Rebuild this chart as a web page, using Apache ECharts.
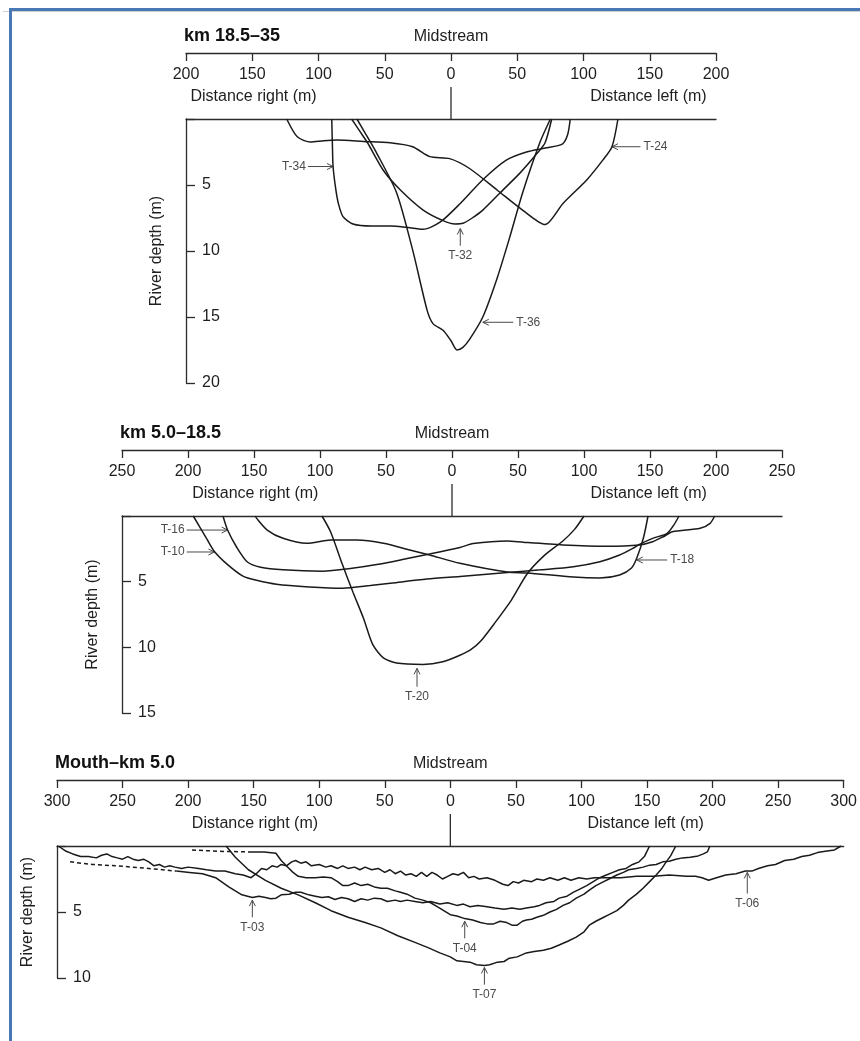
<!DOCTYPE html>
<html>
<head>
<meta charset="utf-8">
<script src="https://cdn.jsdelivr.net/npm/echarts@6.0.0/dist/echarts.min.js"></script>
<style>
html, body { margin:0; padding:0; background:#fff; }
#chart { position:absolute; left:0; top:0; width:860px; height:1041px; }
.fr { position:absolute; background:#4a78b5; }
.gr { position:absolute; background:#cfcfcf; }
</style>
</head>
<body>
<div id="chart"></div>
<div class="gr" style="left:3px;top:11px;width:857px;height:1px;"></div>
<div class="fr" style="left:9px;top:8px;width:851px;height:3px;"></div>
<div class="fr" style="left:9px;top:8px;width:3px;height:1033px;"></div>
<script>
// ---------------- DATA ----------------
// Panel headings
const panelTitles = ['km 18.5\u201335', 'km 5.0\u201318.5', 'Mouth\u2013km 5.0'];
// Half width of each distance axis (m) and depth axis max (m)
const distanceMax = [200, 250, 300];
const depthMax = [20, 15, 10];
const tickStep = 50;
const depthStep = 5;

// Panel 1: km 18.5-35  [distance (m, negative = right bank), depth (m)]
const T24 = [[-124,0],[-116,1.35],[-106,1.75],[-96,1.65],[-86,1.6],[-66,1.7],[-46,1.8],[-29,2.1],[-16,2.85],[-1,3.0],[14,3.75],[35,5.4],[54,6.9],[71,8.0],[84.5,6.4],[102.6,4.6],[114.7,3.1],[121.5,2.1],[126,0]];
const T34 = [[-90,0],[-89.5,2.0],[-89,3.6],[-87,5.3],[-85,6.4],[-81.5,7.4],[-74,7.95],[-60,8.1],[-45,8.1],[-34,8.2],[-21,8.35],[-8,7.8],[7,6.4],[24,4.6],[42,3.1],[57,2.5],[71,2.2],[84,1.9],[88,1.2],[90,0]];
const T32 = [[-75,0],[-69,0.9],[-63,1.8],[-51,3.9],[-38,5.4],[-21,6.9],[-6,7.7],[3,7.95],[9,7.9],[16,7.5],[24,6.9],[37,5.6],[52,4.1],[65,2.6],[71,1.8],[76,0]];
const T36 = [[-71,0],[-64,1.2],[-56,2.6],[-41,5.6],[-29,9.9],[-18,14.5],[-13.6,15.5],[-6,16.0],[0,16.8],[4.5,17.5],[9,17.3],[14,16.7],[24,15.0],[35,12.0],[44.5,8.9],[54,5.6],[67,1.8],[75,0]];

// Panel 2: km 5.0-18.5
const T10 = [[-196,0],[-186,1.7],[-180,2.7],[-170,3.7],[-158,4.6],[-148,4.9],[-133,5.2],[-108,5.4],[-83,5.5],[-62,5.3],[-45,5.1],[-19,4.8],[6,4.6],[42,4.3],[67,4.1],[92,3.86],[112,3.48],[127,2.97],[137,2.46],[142,2.16],[152,1.7],[163,1.32],[168,0.69],[172,0]];
const T16 = [[-173.5,0],[-170,1.07],[-163,2.4],[-155,3.5],[-145,3.9],[-128,4.1],[-98,4.2],[-77,4.0],[-57,3.7],[-32,3.2],[-17,2.9],[6,2.4],[16,2.1],[42,1.9],[54,2.0],[84,2.2],[117,2.3],[142,2.2],[152,1.96],[160,1.58],[167,1.2],[188,0.94],[195.5,0.56],[199,0]];
const T18 = [[-149,0],[-148,0.18],[-140,1.07],[-128,1.7],[-110,2.08],[-92,1.83],[-72,1.83],[-52,2.08],[-32,2.59],[-17,2.97],[6,3.6],[42,4.27],[57,4.34],[92,4.65],[112,4.72],[127,4.49],[136,3.96],[140,3.2],[145,1.68],[148.5,0]];
const T20 = [[-98.5,0],[-92,1.2],[-83,3.7],[-75,5.8],[-67,7.8],[-60,9.8],[-52,10.8],[-42,11.2],[-22,11.3],[-7,11.1],[6,10.6],[14,10.2],[22,9.5],[32,8.2],[45,6.4],[57,4.4],[70,3.0],[84,1.9],[93,1.0],[100,0]];

// Panel 3: Mouth-km 5.0
const T03_dashed = [[-290,1.2],[-273,1.4],[-255,1.5],[-230,1.7],[-209,1.9]];
const T03 = [[-209,1.9],[-199,2.0],[-189,2.1],[-179,2.4],[-169,3.1],[-159,3.7],[-151,3.9],[-146,3.8],[-141,3.9],[-137,4.0],[-133,3.95],[-129,3.7],[-123,3.65],[-118,3.5],[-114,3.5],[-108,3.7],[-103,3.8],[-98,3.9],[-93,3.85],[-88,4.05],[-83,3.9],[-78,4.0],[-73,4.2],[-68,4.0],[-63,4.1],[-58,3.95],[-53,4.0],[-48,4.2],[-42,4.1],[-38,4.2],[-33,4.1],[-27,4.2],[-21,4.3],[-15,4.2],[-8,4.4],[-2,4.3],[5,4.5],[10,4.4],[15,4.6],[21,4.5],[28,4.6],[34,4.7],[41,4.8],[47,4.7],[53,4.8],[58,4.7],[64,4.6],[68,4.5],[73,4.3],[79,4.2],[83,3.95],[89,3.8],[94,3.5],[98,3.3],[104,3.0],[109,2.7],[114,2.4],[119,2.2],[124,2.0],[129,1.8],[134,1.7],[139,1.4],[144,1.2],[148,0.8],[149.5,0.5],[152,0]];
const T04_dashed = [[-197,0.3],[-177,0.4],[-152,0.45]];
const T04 = [[-152,0.45],[-142,0.45],[-133,0.55],[-129,1.1],[-123,1.7],[-120,2.0],[-116,2.3],[-110,2.4],[-103,2.4],[-97,2.35],[-91,2.4],[-86,2.7],[-82,3.0],[-78,3.0],[-73,2.8],[-68,3.0],[-63,2.9],[-58,3.1],[-53,3.2],[-48,3.2],[-42,3.4],[-38,3.5],[-33,3.65],[-27,3.95],[-21,4.1],[-15,4.3],[-10,4.6],[-5,4.9],[0,5.2],[5,5.3],[11,5.5],[17,5.6],[23,5.8],[28,5.9],[33,5.9],[38,5.7],[43,5.8],[47,6.0],[51,6.0],[55,5.7],[58,5.6],[62,5.55],[66,5.4],[71,5.25],[76,5.0],[81,4.8],[86,4.5],[91,4.3],[96,3.95],[102,3.65],[106,3.35],[111,3.0],[117,2.7],[121,2.5],[127,2.2],[132,2.0],[136,1.8],[142,1.7],[147,1.6],[152,1.45],[157,1.4],[162,1.2],[167,1.15],[172,1.0],[177,0.9],[183,0.85],[189,0.75],[193,0.6],[196,0.45],[198,0]];
const T06 = [[-299,0],[-293,0.4],[-288,0.6],[-282,0.8],[-276,0.8],[-270,0.9],[-266,0.7],[-262,0.6],[-258,0.8],[-254,0.9],[-250,1.0],[-246,0.8],[-242,1.0],[-238,1.1],[-234,1.0],[-230,1.2],[-226,1.5],[-222,1.4],[-218,1.6],[-214,1.5],[-210,1.6],[-205,1.7],[-200,1.6],[-192,1.7],[-186,1.8],[-179,1.9],[-172,1.9],[-164,2.1],[-158,2.2],[-152,2.4],[-148,2.1],[-144,1.7],[-140,1.8],[-136,1.5],[-132,1.6],[-129,1.4],[-125,1.5],[-121,1.2],[-118,1.1],[-114,1.3],[-110,1.2],[-106,1.5],[-100,1.4],[-95,1.6],[-91,1.5],[-86,1.7],[-82,1.5],[-78,1.7],[-73,1.6],[-69,1.8],[-65,1.6],[-60,1.8],[-55,1.7],[-50,2.0],[-46,1.8],[-42,2.1],[-38,1.9],[-34,2.2],[-30,2.1],[-26,2.3],[-22,2.0],[-18,2.3],[-14,2.0],[-10,2.2],[-6,2.5],[-2,2.3],[2,2.1],[6,2.2],[10,2.0],[14,2.4],[18,2.3],[22,2.5],[28,2.4],[34,2.6],[40,2.9],[44,3.0],[48,2.7],[52,2.8],[56,2.6],[62,2.7],[66,2.5],[71,2.6],[76,2.4],[82,2.6],[87,2.4],[92,2.6],[98,2.4],[104,2.5],[110,2.4],[116,2.4],[121,2.4],[130,2.4],[142,2.3],[155,2.3],[167,2.2],[180,2.3],[187,2.3],[192,2.4],[197,2.6],[203,2.4],[210,2.2],[218,2.1],[225,1.9],[230,1.9],[235,1.7],[242,1.5],[248,1.4],[255,1.1],[262,1.0],[268,0.8],[274,0.7],[280,0.5],[286,0.4],[293,0.3],[298,0]];
const T07 = [[-171,0],[-164,0.85],[-154,1.8],[-141,2.6],[-129,3.2],[-116,3.7],[-103,4.3],[-91,4.9],[-78,5.4],[-65,5.8],[-53,6.2],[-40,6.8],[-27,7.3],[-17,7.7],[-8,8.1],[0,8.4],[5,8.7],[15,8.8],[20,9.0],[26,9.05],[30,9.0],[36,8.8],[41,8.75],[45,8.5],[51,8.4],[58,8.1],[64,8.0],[71,7.9],[77,7.75],[83,7.5],[90,7.2],[96,6.9],[102,6.5],[106,6.0],[111,5.7],[117,5.4],[121,5.2],[127,4.9],[132,4.5],[136,4.1],[142,3.65],[147,3.2],[152,2.7],[157,2.2],[161,1.75],[164,1.3],[168,0.75],[172,0]];

// Transect labels: [label, arrow tip distance, tip depth, arrow tail distance, tail depth]
const notes1 = [['T-34',-89,3.6,-108,3.6],['T-32',7,8.3,7,9.6],['T-36',24,15.4,47,15.4],['T-24',121.5,2.1,143,2.1]];
const notes2 = [['T-16',-170,1.07,-201,1.07],['T-10',-180,2.74,-201,2.74],['T-20',-26.5,11.6,-26.5,13.0],['T-18',140,3.35,163,3.35]];
const notes3 = [['T-03',-151,4.1,-151,5.4],['T-04',11,5.7,11,7.0],['T-07',26,9.2,26,10.5],['T-06',226.5,2.0,226.5,3.6]];

// ---------------- CHART ----------------
const FONT = '"Liberation Sans", Arial, Helvetica, sans-serif';
const AX = '#2b2b2b', INK = '#1a1a1a', TXT = '#1e1e1e', NOTE = '#4a4a4a';
const gridBoxes = [
  {left:186, top:119, width:530, height:264},
  {left:122, top:516, width:660, height:197},
  {left:57,  top:846, width:792, height:132}
];
const AXIS_OFFSET = 66;
const curves = [
  [{d:T24},{d:T34},{d:T32},{d:T36}],
  [{d:T10},{d:T16},{d:T18},{d:T20}],
  [{d:T06},{d:T03},{d:T03_dashed,dash:true},{d:T04},{d:T04_dashed,dash:true},{d:T07}]
];
const notes = [notes1, notes2, notes3];
const smoothness = [0.25, 0.25, false];

const chart = echarts.init(document.getElementById('chart'), null, {renderer:'canvas'});
const grid = [], xAxis = [], yAxis = [], series = [];
for (let i = 0; i < 3; i++) {
  grid.push(Object.assign({containLabel:false}, gridBoxes[i]));
  const lim = distanceMax[i];
  xAxis.push({
    gridIndex:i, type:'value', position:'top', offset:AXIS_OFFSET,
    min:-lim, max:lim, interval:tickStep,
    axisLine:{show:true, onZero:false, lineStyle:{color:AX, width:1.3}},
    axisTick:{show:true, inside:true, length:8, lineStyle:{color:AX, width:1.3}},
    axisLabel:{show:true, inside:true, margin:14, color:TXT, fontSize:16, fontFamily:FONT,
               formatter:v => String(Math.abs(v))},
    splitLine:{show:false}
  });
  xAxis.push({
    gridIndex:i, type:'value', position:'top', offset:0,
    min:-lim, max:lim, interval:tickStep,
    axisLine:{show:true, onZero:false, lineStyle:{color:AX, width:1.3}},
    axisTick:{show:false}, axisLabel:{show:false}, splitLine:{show:false}
  });
  yAxis.push({
    gridIndex:i, type:'value', inverse:true, min:0, max:depthMax[i], interval:depthStep, position:'left',
    axisLine:{show:true, onZero:false, lineStyle:{color:AX, width:1.3}},
    axisTick:{show:true, inside:true, length:9, lineStyle:{color:AX, width:1.3}},
    axisLabel:{show:true, inside:true, margin:16, color:TXT, fontSize:16, fontFamily:FONT,
               formatter:v => v === 0 ? '' : String(v)},
    splitLine:{show:false},
    name:'River depth (m)', nameLocation:'middle', nameGap:21, nameRotate:90,
    nameTextStyle:{color:TXT, fontSize:16, fontFamily:FONT}
  });
  curves[i].forEach(c => {
    series.push({
      type:'line', xAxisIndex:2*i, yAxisIndex:i, data:c.d,
      symbol:'none', showSymbol:false, smooth:smoothness[i], silent:true,
      lineStyle:{color:INK, width:1.5, type:c.dash ? [4,3] : 'solid'}
    });
  });
}
chart.setOption({animation:false, backgroundColor:'#fff', grid, xAxis, yAxis, series});

// Annotations and headings, placed through the axes' own scales
function P(i, m, d) { return chart.convertToPixel({xAxisIndex:2*i, yAxisIndex:i}, [m, d]); }
function txt(x, y, s, font, fill, align, valign) {
  return {type:'text', x:x, y:y, silent:true,
    style:{text:s, font:font, fill:fill, align:align, verticalAlign:valign, textAlign:align, textVerticalAlign:valign}};
}
const g = [];
for (let i = 0; i < 3; i++) {
  const box = gridBoxes[i];
  const axisY = box.top - AXIS_OFFSET;
  const mid = P(i, 0, 0);
  g.push(txt(box.left - 2, axisY - 17, panelTitles[i], 'bold 18px ' + FONT, '#111', 'left', 'middle'));
  g.push(txt(mid[0], axisY - 16, 'Midstream', '16px ' + FONT, TXT, 'center', 'middle'));
  const r = P(i, -149, 0), l = P(i, 149, 0);
  g.push(txt(r[0], axisY + 44, 'Distance right (m)', '16px ' + FONT, TXT, 'center', 'middle'));
  g.push(txt(l[0], axisY + 44, 'Distance left (m)', '16px ' + FONT, TXT, 'center', 'middle'));
  g.push({type:'line', silent:true, shape:{x1:mid[0], y1:axisY + 34, x2:mid[0], y2:mid[1]},
          style:{stroke:AX, lineWidth:1.3}});
  notes[i].forEach(n => {
    const tip = P(i, n[1], n[2]), tail = P(i, n[3], n[4]);
    const dx = tip[0] - tail[0], dy = tip[1] - tail[1];
    const L = Math.hypot(dx, dy) || 1, ux = dx / L, uy = dy / L;
    const a = 6, b = 3;
    g.push({type:'line', silent:true, shape:{x1:tail[0], y1:tail[1], x2:tip[0], y2:tip[1]},
            style:{stroke:NOTE, lineWidth:1}});
    g.push({type:'polyline', silent:true,
            shape:{points:[[tip[0] - a*ux - b*uy, tip[1] - a*uy + b*ux], [tip[0], tip[1]], [tip[0] - a*ux + b*uy, tip[1] - a*uy - b*ux]]},
            style:{stroke:NOTE, lineWidth:1, fill:null}});
    if (Math.abs(dy) > Math.abs(dx)) {
      g.push(txt(tail[0], tail[1] + 4, n[0], '12px ' + FONT, NOTE, 'center', 'top'));
    } else if (dx > 0) {
      g.push(txt(tail[0] - 2, tail[1], n[0], '12px ' + FONT, NOTE, 'right', 'middle'));
    } else {
      g.push(txt(tail[0] + 3, tail[1], n[0], '12px ' + FONT, NOTE, 'left', 'middle'));
    }
  });
}
chart.setOption({graphic:g});
</script>
</body>
</html>
